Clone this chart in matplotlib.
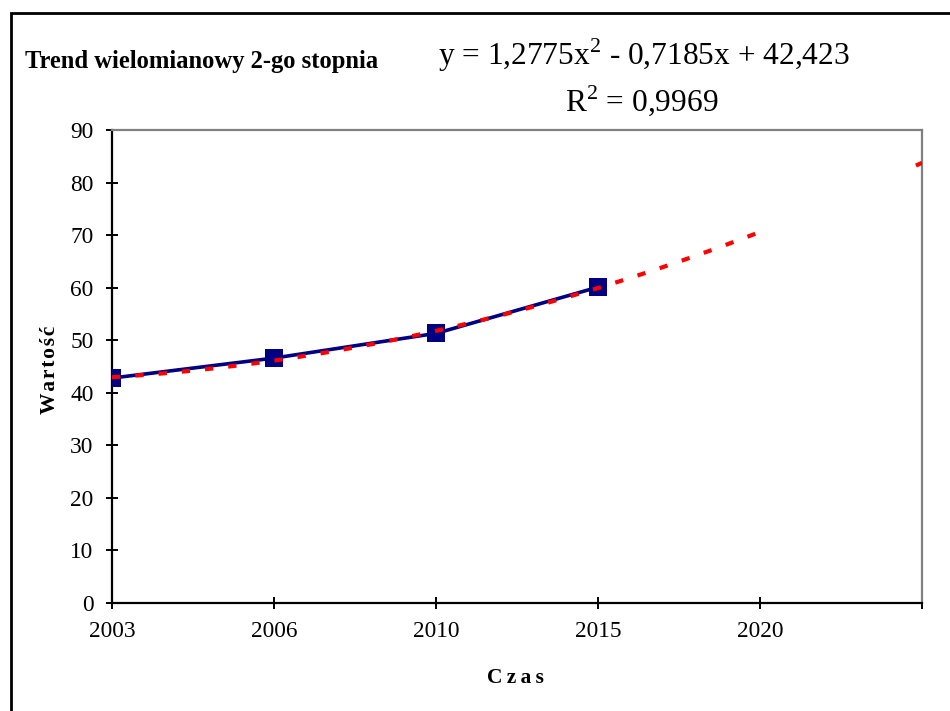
import numpy as np
from matplotlib import pyplot as plt
from matplotlib.patches import Rectangle

plt.rcParams['font.family'] = ['Liberation Serif', 'DejaVu Serif']
plt.rcParams['mathtext.fontset'] = 'custom'
plt.rcParams['mathtext.rm'] = 'Liberation Serif'

# data
positions = [1, 2, 3, 4]
values = [42.8, 46.6, 51.3, 60.1]
tick_labels = ['2003', '2006', '2010', '2015', '2020', '']

# 2nd degree polynomial trend, extended to the last category
coef = np.polyfit(positions, values, 2)
trend_x = np.linspace(1, 6, 400)
trend_y = np.polyval(coef, trend_x)
# the reference only shows the trend end piece past 2020
trend_y[(trend_x > 5.02) & (trend_x < 5.96)] = np.nan

fig = plt.figure(figsize=(9.5, 7.11), dpi=100)
ax = fig.add_axes([112 / 950, 1 - 603 / 711, 810 / 950, 473 / 711])

ax.plot(positions, values, color='#000080', lw=2.6, marker='s', ms=13.5,
        mew=0, zorder=3)
ax.plot(trend_x, trend_y, color='#ff0000', lw=3, dashes=(2.0, 3.6),
        dash_capstyle='butt', zorder=4)

ax.set_xlim(1, 6)
ax.set_ylim(0, 90)
ax.set_yticks(range(0, 91, 10))
ax.set_xticks(range(1, 7))
ax.set_xticklabels(tick_labels)
ax.tick_params(direction='inout', length=8.6, width=1.4, labelsize=16.8,
               pad=9.0, colors='black')

for side in ['left', 'bottom']:
    ax.spines[side].set_linewidth(1.6)
    ax.spines[side].set_color('black')
for side in ['top', 'right']:
    ax.spines[side].set_linewidth(1.6)
    ax.spines[side].set_color('#808080')

fig.text(25 / 950, 1 - 68 / 711, 'Trend wielomianowy 2-go stopnia',
         fontsize=17.7, fontweight='bold', ha='left', va='baseline')
fig.text(644 / 950, 1 - 65 / 711, r'y = 1,2775x$^2$ - 0,7185x + 42,423',
         fontsize=22.6, ha='center', va='baseline')
fig.text(642 / 950, 1 - 111 / 711, r'R$^2$ = 0,9969',
         fontsize=22.6, ha='center', va='baseline')

fig.text(50 / 950, 1 - 370 / 711, '\u200a'.join('Wartość'), fontsize=15.5,
         fontweight='bold', rotation=90, ha='center', va='center')
fig.text(515 / 950, 1 - 678 / 711, '\u2009'.join('Czas'), fontsize=15.5,
         fontweight='bold', ha='center', va='center')

# outer chart frame (cut off on the right and bottom)
fig.add_artist(Rectangle((10.5 / 950, -0.1), 1.2, 1.1 - 13 / 711,
                         transform=fig.transFigure, fill=False,
                         edgecolor='black', lw=2, clip_on=False))

plt.savefig('out.png', dpi=100)
